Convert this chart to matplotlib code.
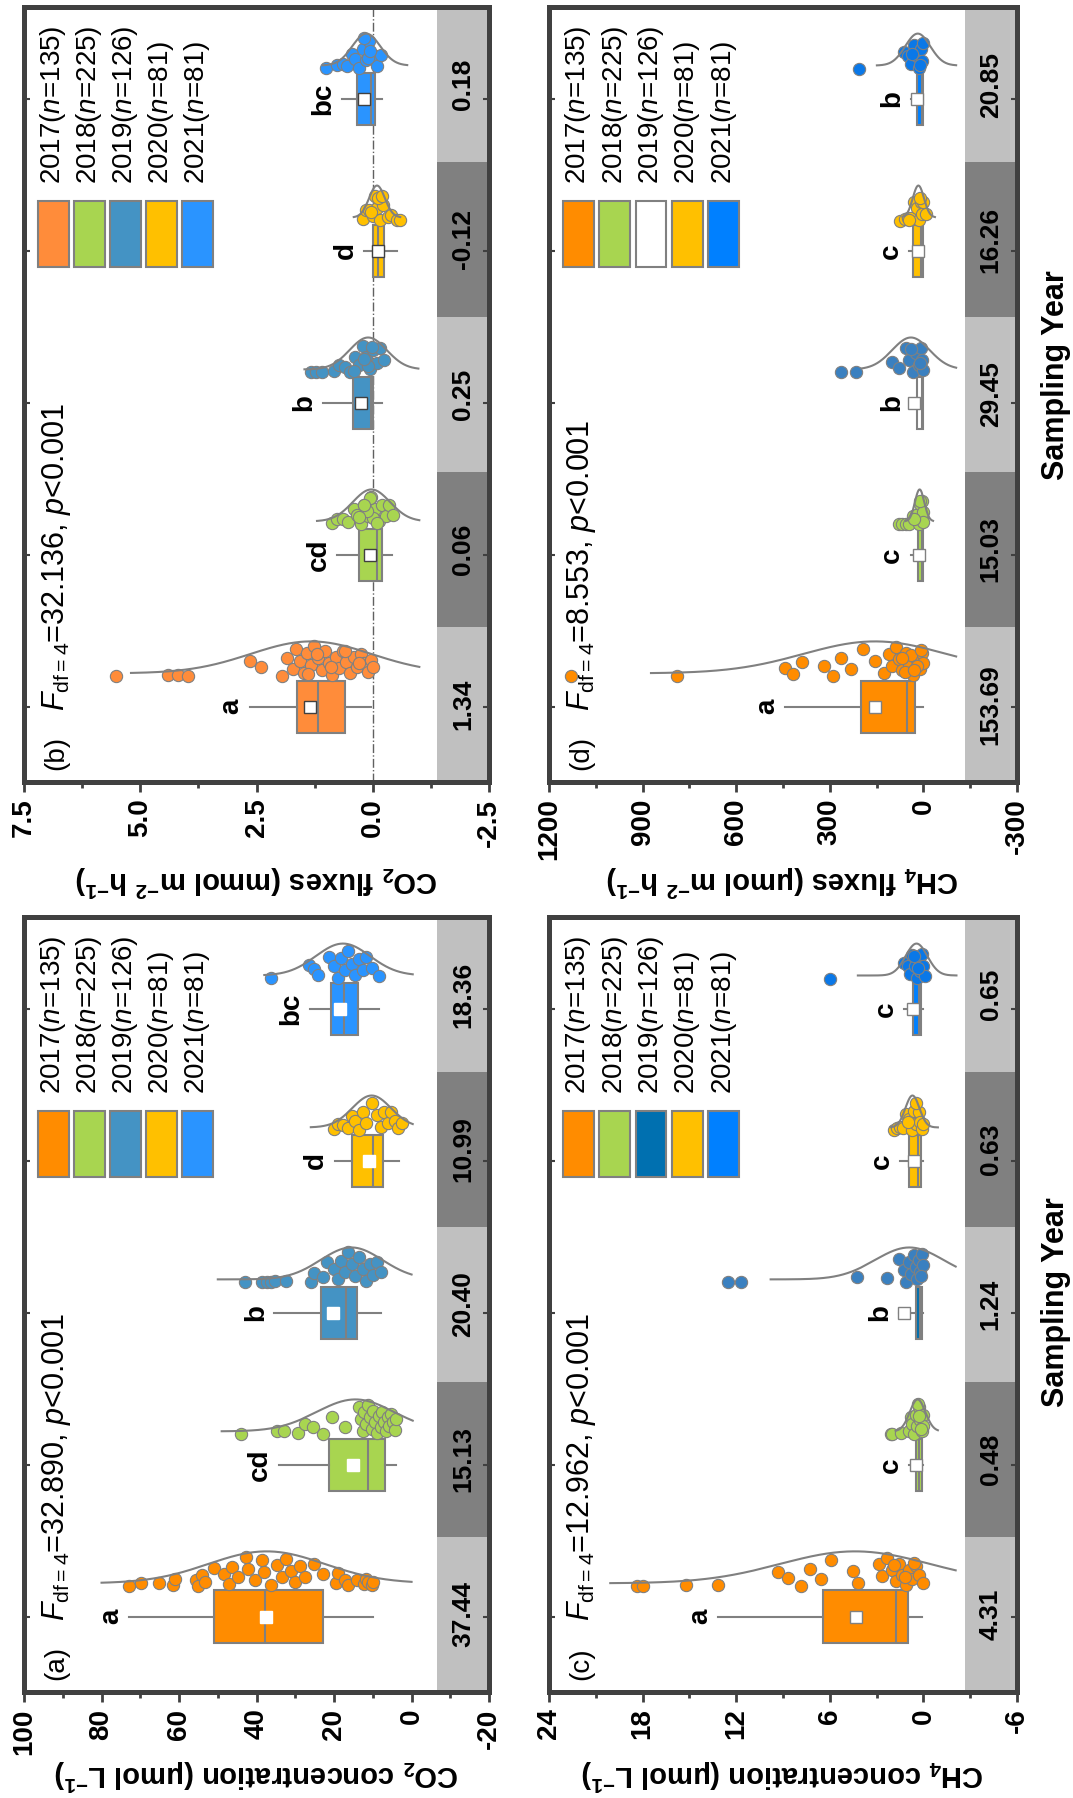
import numpy as np
import matplotlib
matplotlib.use('Agg')
import matplotlib.pyplot as plt
from matplotlib.patches import Rectangle
from matplotlib.ticker import MultipleLocator, FormatStrFormatter

years = ['2017', '2018', '2019', '2020', '2021']
n_obs = [135, 225, 126, 81, 81]

# (a) CO2 concentration
a_q1 = [22.8, 6.8, 14.2, 7.3, 13.8]
a_med = [37.8, 11.3, 16.8, 9.9, 17.5]
a_q3 = [50.9, 21.4, 23.3, 15.4, 20.7]
a_lo = [9.9, 3.9, 8.0, 3.3, 8.3]
a_hi = [72.8, 34.3, 35.4, 19.8, 26.2]
a_mean = [37.44, 15.13, 20.40, 10.99, 18.36]
a_letters = ['a', 'cd', 'b', 'd', 'bc']
a_points = [
    [72.8, 69.8, 65.2, 61.5, 61.0, 55.5, 55.0, 54.1, 53.2, 50.9, 48.3, 47.2, 46.3, 44.9, 42.6, 42.1,
     40.3, 38.5, 38.0, 36.2, 34.8, 33.4, 32.5, 31.1, 30.2, 28.8, 27.4, 25.1, 22.8, 19.6, 19.1, 17.3,
     16.3, 14.0, 12.4, 11.7, 11.3, 10.3, 9.9],
    [44.0, 34.8, 32.9, 29.2, 27.4, 25.5, 22.8, 20.5, 17.3, 13.6, 13.1, 12.6, 12.2, 11.7, 11.3, 10.8,
     10.3, 9.9, 9.4, 9.0, 8.5, 8.0, 7.6, 7.1, 6.7, 6.2, 5.7, 5.3, 4.8, 4.4, 3.9],
    [43.1, 38.5, 37.3, 36.2, 35.2, 32.5, 26.0, 25.1, 22.8, 21.9, 20.0, 19.1, 18.2, 17.3, 16.3, 15.4,
     14.5, 13.6, 12.6, 11.7, 10.8, 9.9, 9.0, 8.0],
    [20.0, 19.1, 17.7, 16.3, 15.4, 14.5, 13.6, 12.6, 11.7, 10.3, 9.0, 8.0, 7.1, 6.2, 5.3, 4.4, 3.4, 2.5],
    [36.4, 26.5, 25.1, 24.2, 21.4, 20.0, 19.1, 18.2, 17.3, 16.3, 15.4, 14.5, 13.6, 12.6, 11.7, 10.3, 8.5],
]
a_curve_c = [37.4, 14.5, 15.5, 10.3, 17.7]
a_curve_sd = [15.0, 10.0, 8.0, 5.0, 7.0]
a_curve_lo = [0.0, -0.3, 0.0, -0.3, -0.3]
a_curve_hi = [80.0, 49.0, 50.0, 26.0, 38.0]

# (b) CO2 fluxes
b_q1 = [0.60, -0.20, -0.01, -0.24, -0.05]
b_med = [1.17, -0.09, 0.03, -0.11, 0.03]
b_q3 = [1.63, 0.30, 0.43, -0.01, 0.34]
b_lo = [0.03, -0.41, -0.19, -0.51, -0.20]
b_hi = [2.64, 0.77, 1.08, 0.18, 0.67]
b_mean = [1.34, 0.06, 0.25, -0.12, 0.18]
b_letters = ['a', 'cd', 'b', 'd', 'bc']
b_points = [
    [5.52, 4.41, 4.18, 3.98, 2.64, 2.41, 1.95, 1.85, 1.72, 1.65, 1.57, 1.49, 1.41, 1.33, 1.26, 1.18,
     1.10, 1.03, 0.95, 0.87, 0.80, 0.72, 0.64, 0.57, 0.49, 0.41, 0.34, 0.26, 0.18, 0.10, 0.03, 0.0,
     1.40, 1.20, 0.90, 0.60, 0.30],
    [0.87, 0.76, 0.64, 0.53, 0.41, 0.34, 0.26, 0.18, 0.10, 0.03, -0.05, -0.13, -0.20, -0.28, -0.35,
     -0.43, 0.0, 0.05, 0.12, -0.08, 0.20, 0.30],
    [1.33, 1.22, 1.10, 0.83, 0.72, 0.60, 0.49, 0.38, 0.30, 0.22, 0.14, 0.06, -0.01, -0.09, -0.16,
     -0.24, 0.10, 0.02, 0.18, 0.40],
    [0.22, 0.15, 0.08, 0.0, -0.05, -0.10, -0.15, -0.22, -0.32, -0.40, -0.51, -0.59, -0.12, 0.03, -0.20],
    [1.01, 0.76, 0.65, 0.55, 0.45, 0.38, 0.30, 0.22, 0.15, 0.08, 0.0, -0.08, -0.17, 0.10, 0.20, 0.05],
]
b_curve_c = [1.33, 0.03, 0.10, -0.09, 0.14]
b_curve_sd = [1.3, 0.4, 0.4, 0.17, 0.3]
b_curve_lo = [-1.0, -1.0, -0.98, -0.59, -0.74]
b_curve_hi = [5.2, 1.2, 1.47, 0.41, 1.07]

# (c) CH4 concentration
c_q1 = [0.98, 0.12, 0.08, 0.15, 0.15]
c_med = [1.73, 0.25, 0.20, 0.35, 0.30]
c_q3 = [6.43, 0.45, 0.50, 0.95, 0.69]
c_lo = [0.09, 0.0, 0.0, 0.0, 0.0]
c_hi = [13.14, 0.90, 1.55, 1.50, 1.24]
c_mean = [4.31, 0.48, 1.24, 0.63, 0.65]
c_letters = ['a', 'c', 'b', 'c', 'c']
c_points = [
    [18.34, 18.0, 15.2, 13.14, 9.35, 8.7, 7.84, 7.26, 6.54, 5.93, 4.48, 4.22, 2.86, 2.64, 2.32, 2.0,
     1.78, 1.56, 1.34, 1.13, 0.91, 0.70, 0.48, 0.26, 0.05, 1.9, 1.2, 0.6],
    [2.1, 2.0, 1.45, 0.9, 0.8, 0.7, 0.6, 0.5, 0.4, 0.3, 0.2, 0.1, 0.05, 0.0, 0.35, 0.25, 0.15],
    [12.5, 11.7, 4.27, 2.32, 1.56, 1.24, 1.1, 0.91, 0.8, 0.6, 0.5, 0.4, 0.3, 0.2, 0.1, 0.05, 0.15],
    [1.89, 1.7, 1.5, 1.3, 1.1, 0.9, 0.75, 0.6, 0.45, 0.3, 0.2, 0.1, 0.0, 1.0, 0.5],
    [5.96, 1.24, 1.0, 0.85, 0.7, 0.55, 0.4, 0.3, 0.2, 0.1, 0.0, -0.1, 0.6, 0.35],
]
c_curve_c = [4.38, 0.37, 0.9, 0.7, 0.44]
c_curve_sd = [4.8, 0.5, 2.2, 0.45, 0.7]
c_curve_lo = [-2.07, -0.93, -2.07, -0.93, -2.12]
c_curve_hi = [20.07, 1.78, 9.79, 2.1, 4.2]

# (d) CH4 fluxes
d_q1 = [26.6, 1.5, 1.5, 1.4, 1.5]
d_med = [52.9, 6.0, 6.0, 8.0, 6.0]
d_q3 = [200.6, 17.9, 22.0, 34.0, 20.0]
d_lo = [0.0, 0.0, 0.0, 0.0, 0.0]
d_hi = [442.0, 40.0, 40.0, 45.0, 40.0]
d_mean = [153.69, 15.03, 29.45, 16.26, 20.85]
d_letters = ['a', 'c', 'b', 'c', 'b']
d_points = [
    [1130, 789, 444, 417, 390, 319, 291, 264, 231, 193, 155, 127, 111, 100, 89, 78, 67, 56, 45, 34,
     23, 12, 5, 1, 60, 40, 20, 8, 70, 30],
    [78, 67, 56, 45, 34, 23, 15, 10, 6, 3, 1, 0, 12, 30],
    [264, 217, 100, 78, 56, 45, 34, 23, 15, 8, 3, 0, 40, 12],
    [75, 60, 50, 40, 30, 22, 15, 8, 3, 0, -8, 45, 12],
    [206, 62, 50, 40, 30, 22, 15, 8, 3, 0, 35, 12],
]
d_curve_c = [155, 12, 40, 16, 18]
d_curve_sd = [230, 15, 60, 18, 40]
d_curve_lo = [-105, -31, -105, -37, -105]
d_curve_hi = [873, 56, 198, 67, 149]

FONT = 'Liberation Sans'
plt.rcParams['font.family'] = [FONT, 'DejaVu Sans']
plt.rcParams['font.weight'] = 'bold'
plt.rcParams['mathtext.fontset'] = 'custom'
plt.rcParams['mathtext.rm'] = FONT + ':weight=normal'
plt.rcParams['mathtext.it'] = FONT + ':style=italic:weight=normal'
plt.rcParams['mathtext.bf'] = FONT + ':weight=bold'
plt.rcParams['axes.unicode_minus'] = False

SPINE = '#404040'
EDGE = '#808080'
BASE, HUMP = 0.22, 0.21

panels = [
    dict(rect=[0.0224, 0.0590, 0.4334, 0.4310], tag='(a)', F='32.890',
         xlim=(100, -20), major=20, minor=10, fmt='%d',
         xlabel=r'$\mathbf{CO_2\ concentration\ (μmol\ L^{-1})}$', xlab_y=-0.107,
         bands=['37.44', '15.13', '20.40', '10.99', '18.36'],
         q1=a_q1, med=a_med, q3=a_q3, lo=a_lo, hi=a_hi, mean=a_mean, letters=a_letters,
         pts=a_points, cc=a_curve_c, csd=a_curve_sd, clo=a_curve_lo, chi=a_curve_hi,
         box=['#FF8C00', '#A8D550', '#4493C4', '#FFC000', '#2A94FF'],
         dots=['#FF8C00', '#A8D550', '#4493C4', '#FFC000', '#2A94FF'],
         leg=['#FF8C00', '#A8D550', '#4493C4', '#FFC000', '#2A94FF'],
         mean_edge='white', zero=False, syear=None),
    dict(rect=[0.0224, 0.5651, 0.4334, 0.4310], tag='(b)', F='32.136',
         xlim=(7.5, -2.5), major=2.5, minor=1.25, fmt='%.1f',
         xlabel=r'$\mathbf{CO_2\ fluxes\ (mmol\ m^{-2}\ h^{-1})}$', xlab_y=-0.127,
         bands=['1.34', '0.06', '0.25', '-0.12', '0.18'],
         q1=b_q1, med=b_med, q3=b_q3, lo=b_lo, hi=b_hi, mean=b_mean, letters=b_letters,
         pts=b_points, cc=b_curve_c, csd=b_curve_sd, clo=b_curve_lo, chi=b_curve_hi,
         box=['#FF8C3A', '#A8D550', '#4493C4', '#FFC000', '#2A94FF'],
         dots=['#FF8C3A', '#A8D550', '#4493C4', '#FFC000', '#2A94FF'],
         leg=['#FF8C3A', '#A8D550', '#4493C4', '#FFC000', '#2A94FF'],
         mean_edge=SPINE, zero=True, syear=None),
    dict(rect=[0.5116, 0.0590, 0.4362, 0.4310], tag='(c)', F='12.962',
         xlim=(24, -6), major=6, minor=3, fmt='%d',
         xlabel=r'$\mathbf{CH_4\ concentration\ (μmol\ L^{-1})}$', xlab_y=-0.107,
         bands=['4.31', '0.48', '1.24', '0.63', '0.65'],
         q1=c_q1, med=c_med, q3=c_q3, lo=c_lo, hi=c_hi, mean=c_mean, letters=c_letters,
         pts=c_points, cc=c_curve_c, csd=c_curve_sd, clo=c_curve_lo, chi=c_curve_hi,
         box=['#FF8C00', '#A8D550', '#0070B0', '#FFC000', '#0080FF'],
         dots=['#FF8C00', '#A8D550', '#3A80C0', '#FFC000', '#0A78E8'],
         leg=['#FF8C00', '#A8D550', '#0070B0', '#FFC000', '#0080FF'],
         mean_edge=EDGE, zero=False, syear=0.503),
    dict(rect=[0.5116, 0.5651, 0.4362, 0.4310], tag='(d)', F='8.553',
         xlim=(1200, -300), major=300, minor=150, fmt='%d',
         xlabel=r'$\mathbf{CH_4\ fluxes\ (μmol\ m^{-2}\ h^{-1})}$', xlab_y=-0.127,
         bands=['153.69', '15.03', '29.45', '16.26', '20.85'],
         q1=d_q1, med=d_med, q3=d_q3, lo=d_lo, hi=d_hi, mean=d_mean, letters=d_letters,
         pts=d_points, cc=d_curve_c, csd=d_curve_sd, clo=d_curve_lo, chi=d_curve_hi,
         box=['#FF8C00', '#A8D550', '#FFFFFF', '#FFC000', '#0080FF'],
         dots=['#FF8C00', '#A8D550', '#3A80C0', '#FFC000', '#0A78E8'],
         leg=['#FF8C00', '#A8D550', '#FFFFFF', '#FFC000', '#0080FF'],
         mean_edge=EDGE, zero=False, syear=0.525),
]

fig = plt.figure(figsize=(10.73, 17.98), dpi=100)
pos = np.arange(1, 6)
all_axes = []

for p in panels:
    ax = fig.add_axes(p['rect'])
    all_axes.append(ax)
    ax.set_xlim(*p['xlim'])
    ax.set_ylim(0.505, 5.605)

    # grey strip with the means
    for i in range(5):
        ax.add_patch(Rectangle((0.888, i / 5), 0.112, 0.2, transform=ax.transAxes,
                               fc='#C0C0C0' if i % 2 == 0 else '#808080', ec='none', zorder=0.5))
        ax.text(0.944, (i + 0.5) / 5, p['bands'][i], transform=ax.transAxes, rotation=90,
                ha='center', va='center', fontsize=19, fontweight='bold', zorder=6)

    if p['zero']:
        ax.axvline(0, color='#606060', lw=1, ls='-.', zorder=1)

    stats = []
    for i in range(5):
        stats.append(dict(med=p['med'][i], q1=p['q1'][i], q3=p['q3'][i], whislo=p['lo'][i],
                          whishi=p['hi'][i], mean=p['mean'][i], fliers=[]))
    kw = dict(positions=pos, widths=0.345, showmeans=True, showcaps=False, showfliers=False,
              patch_artist=True, manage_ticks=False,
              boxprops=dict(edgecolor=EDGE, linewidth=1.5),
              medianprops=dict(color=EDGE, linewidth=1.5),
              whiskerprops=dict(color=EDGE, linewidth=1.5),
              meanprops=dict(marker='s', markerfacecolor='white', markeredgecolor=p['mean_edge'],
                             markersize=9, markeredgewidth=1, zorder=5))
    try:
        bp = ax.bxp(stats, orientation='horizontal', **kw)
    except TypeError:
        bp = ax.bxp(stats, vert=False, **kw)
    for box, col in zip(bp['boxes'], p['box']):
        box.set_facecolor(col)
        box.set_zorder(2)

    for i in range(5):
        c, sd, lo, hi = p['cc'][i], p['csd'][i], p['clo'][i], p['chi'][i]
        v = np.linspace(lo, hi, 300)
        ax.plot(v, pos[i] + BASE + HUMP * np.exp(-0.5 * ((v - c) / sd) ** 2),
                color=EDGE, lw=1.5, zorder=4)
        vals = np.array(p['pts'][i], dtype=float)
        top = np.where((vals >= lo) & (vals <= hi),
                       BASE + HUMP * np.exp(-0.5 * ((vals - c) / sd) ** 2), BASE)
        frac = (np.arange(len(vals)) * 0.618034 + 0.31) % 1
        ys = pos[i] + 0.2 + frac * np.clip(top - 0.22, 0, None)
        ax.scatter(vals, ys, s=78, color=p['dots'][i], edgecolors=EDGE, linewidths=0.8, zorder=3)
        ax.annotate(p['letters'][i], (p['hi'][i], pos[i]), xytext=(-4, 0),
                    textcoords='offset points', rotation=90, ha='right', va='center',
                    fontsize=20, fontweight='bold', zorder=6)

    # legend drawn by hand, turned like the rest of the figure
    for i in range(5):
        x0 = 0.030 + i * 0.0775
        ax.add_patch(Rectangle((x0, 0.665), 0.066, 0.085, transform=ax.transAxes,
                               fc=p['leg'][i], ec=EDGE, lw=1.5, zorder=6))
        ax.text(x0 + 0.033, 0.772, years[i] + r'($\mathit{n}$=' + str(n_obs[i]) + ')',
                transform=ax.transAxes, rotation=90, ha='center', va='bottom',
                fontsize=20, fontweight='normal', zorder=6)

    ax.text(0.07, 0.015, p['tag'], transform=ax.transAxes, rotation=90, ha='center',
            va='bottom', fontsize=20, fontweight='normal', zorder=6)
    ax.text(0.07, 0.092, r'$\mathit{F}_{\mathrm{df=4}}$=' + p['F'] + r', $\mathit{p}$<0.001',
            transform=ax.transAxes, rotation=90, ha='center', va='bottom',
            fontsize=22, fontweight='normal', zorder=6)

    ax.xaxis.set_major_locator(MultipleLocator(p['major']))
    ax.xaxis.set_minor_locator(MultipleLocator(p['minor']))
    ax.xaxis.set_major_formatter(FormatStrFormatter(p['fmt']))
    ax.tick_params(axis='x', which='major', direction='out', length=7, width=2, color=SPINE,
                   labelsize=20, labelrotation=90, pad=5)
    ax.tick_params(axis='x', which='minor', direction='out', length=4, width=2, color=SPINE)
    ax.set_yticks(pos)
    ax.tick_params(axis='y', direction='in', length=4, width=1.5, color=SPINE,
                   left=True, right=True, labelleft=False)
    for s in ax.spines.values():
        s.set_linewidth(3.6)
        s.set_color(SPINE)

    ax.set_xlabel(p['xlabel'], rotation=180, fontsize=21)
    ax.xaxis.set_label_coords(0.5, p['xlab_y'])
    ax.xaxis.label.set_va('center')
    ax.xaxis.label.set_ha('center')

    if p['syear'] is not None:
        ax.yaxis.set_label_position('right')
        ax.set_ylabel('Sampling Year', rotation=90, fontsize=22, fontweight='bold')
        ax.yaxis.set_label_coords(1.083, p['syear'])
        ax.yaxis.label.set_va('center')
        ax.yaxis.label.set_ha('center')

# ticks exist only after a draw, then make their labels bold
fig.canvas.draw()
for ax in all_axes:
    for t in ax.xaxis.get_major_ticks():
        t.label1.set_fontweight('bold')

fig.savefig('out.png', dpi=100)
